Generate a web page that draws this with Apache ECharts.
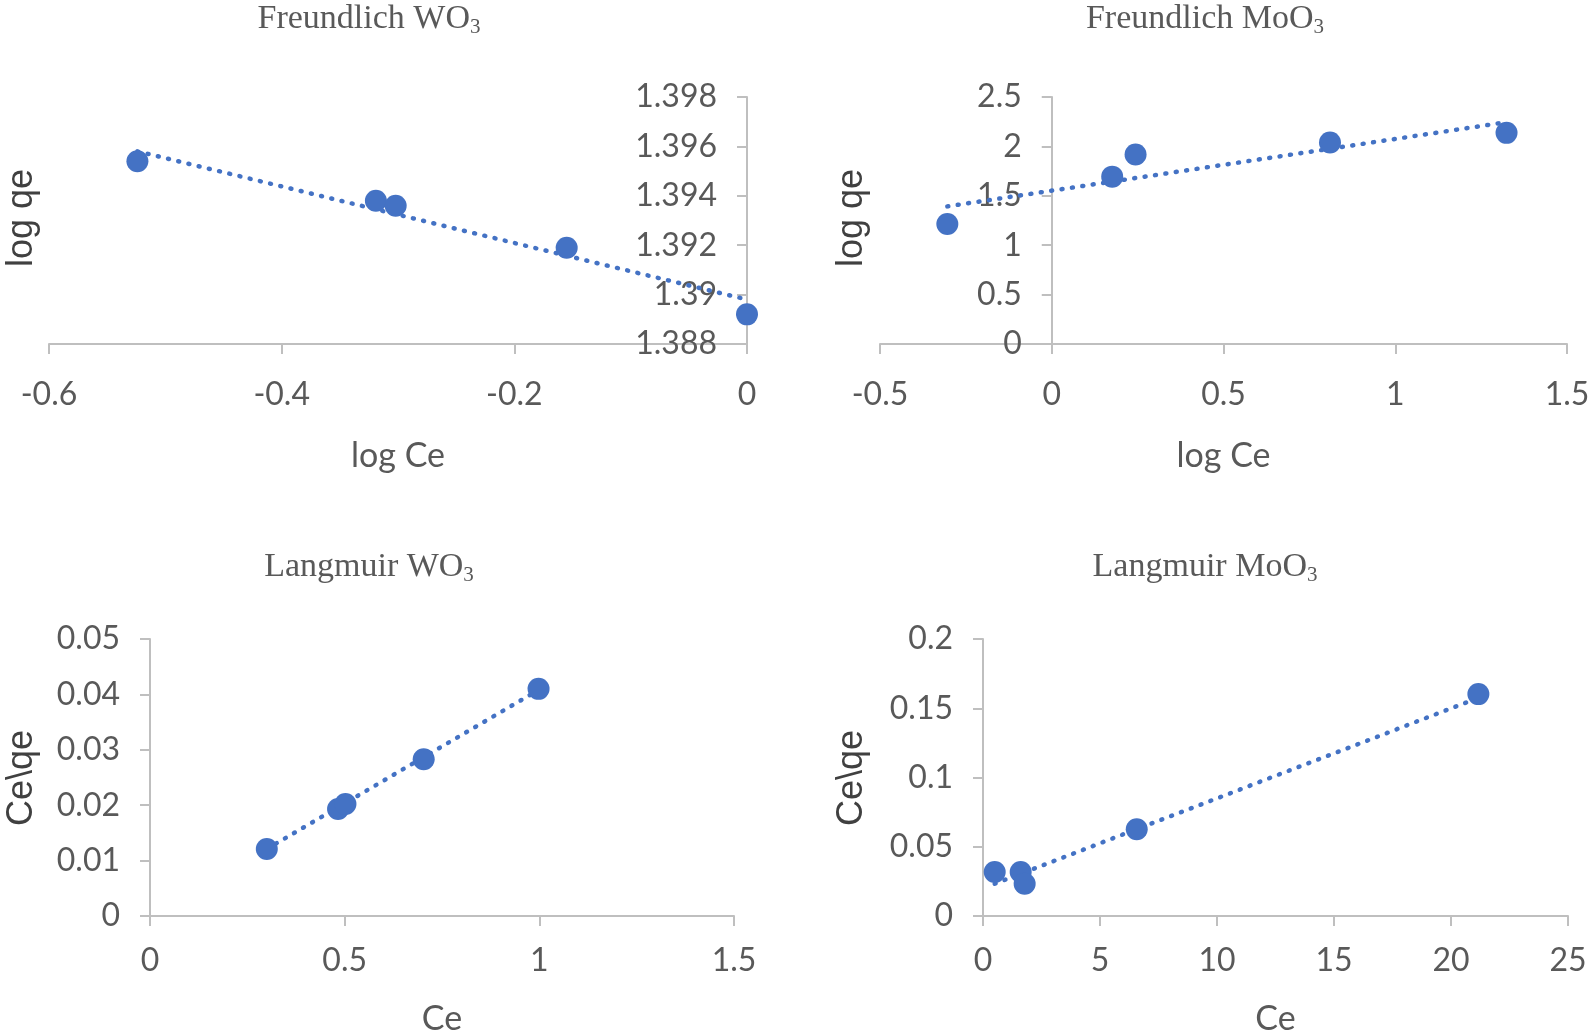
<!DOCTYPE html>
<html>
<head>
<meta charset="utf-8">
<title>Freundlich and Langmuir isotherms</title>
<script src="https://cdn.jsdelivr.net/npm/echarts@6/dist/echarts.min.js"></script>
<style>
    html, body { margin: 0; padding: 0; background: #fff; }
    #chart { width: 1594px; height: 1033px; }
</style>
</head>
<body>
<div id="chart"></div>
<script>
// Freundlich WO3
const fwLogCe = [-0.524, -0.319, -0.302, -0.155, 0];
const fwLogQe = [1.3954, 1.3938, 1.3936, 1.3919, 1.3892];
const fwTrendX = [-0.524, 0];
const fwTrendY = [1.3958, 1.3898];
const fwXTicks = [-0.6, -0.4, -0.2, 0];
const fwYTicks = [1.388, 1.39, 1.392, 1.394, 1.396, 1.398];

// Freundlich MoO3
const fmLogCe = [-0.304, 0.176, 0.244, 0.810, 1.324];
const fmLogQe = [1.214, 1.694, 1.918, 2.04, 2.137];
const fmTrendX = [-0.304, 1.324];
const fmTrendY = [1.393, 2.245];
const fmXTicks = [-0.5, 0, 0.5, 1, 1.5];
const fmYTicks = [0, 0.5, 1, 1.5, 2, 2.5];

// Langmuir WO3
const lwCe = [0.300, 0.483, 0.502, 0.703, 0.998];
const lwCeQe = [0.0121, 0.0193, 0.0202, 0.0283, 0.0410];
const lwTrendX = [0.300, 0.998];
const lwTrendY = [0.0121, 0.0408];
const lwXTicks = [0, 0.5, 1, 1.5];
const lwYTicks = [0, 0.01, 0.02, 0.03, 0.04, 0.05];

// Langmuir MoO3
const lmCe = [0.50, 1.61, 1.78, 6.57, 21.17];
const lmCeQe = [0.0318, 0.0318, 0.0233, 0.0626, 0.1602];
const lmTrendX = [0.50, 21.17];
const lmTrendY = [0.0233, 0.1575];
const lmXTicks = [0, 5, 10, 15, 20, 25];
const lmYTicks = [0, 0.05, 0.1, 0.15, 0.2];

const blue = '#4472C4';
const axisGray = '#bfbfbf';
const textGray = '#595959';

const grids = [
    { left: 49, top: 97, width: 698, height: 247 },
    { left: 880, top: 97, width: 687, height: 247 },
    { left: 150, top: 639, width: 584, height: 277 },
    { left: 983, top: 639, width: 585, height: 277 }
];

function pairs(xs, ys) {
    return xs.map((x, i) => [x, ys[i]]);
}

// min / max / interval straight from the tick list
function range(ticks) {
    return {
        min: ticks[0],
        max: ticks[ticks.length - 1],
        interval: +(ticks[1] - ticks[0]).toFixed(6)
    };
}

// shift of a left y axis so it crosses the x axis at x = 0
function zeroOffset(xTicks, width) {
    const lo = xTicks[0], hi = xTicks[xTicks.length - 1];
    if (lo >= 0) return 0;
    return -((0 - lo) / (hi - lo)) * width;
}

function xAxisOf(idx, ticks, name, gap, labelMargin) {
    return Object.assign({
        type: 'value',
        gridIndex: idx,
        name: name,
        nameLocation: 'middle',
        nameGap: gap,
        nameTextStyle: { color: textGray, fontFamily: 'Lato', fontSize: 34 },
        splitLine: { show: false },
        axisLine: { onZero: true, lineStyle: { color: axisGray, width: 2 } },
        axisTick: { show: true, length: 10, lineStyle: { color: axisGray, width: 2 } },
        axisLabel: { color: textGray, fontFamily: 'Lato', fontSize: 32, margin: labelMargin }
    }, range(ticks));
}

function yAxisOf(idx, ticks, xTicks, onRight) {
    return Object.assign({
        type: 'value',
        gridIndex: idx,
        // y axis crossing at x = 0 on the right edge: labels and ticks point inwards
        position: onRight ? 'right' : 'left',
        offset: onRight ? 0 : zeroOffset(xTicks, grids[idx].width),
        splitLine: { show: false },
        axisLine: { show: true, onZero: false, lineStyle: { color: axisGray, width: 2 } },
        axisTick: { show: true, inside: onRight, length: 10, lineStyle: { color: axisGray, width: 2 } },
        axisLabel: { inside: onRight, color: textGray, fontFamily: 'Lato', fontSize: 32, margin: 30 }
    }, range(ticks));
}

function scatterOf(idx, xs, ys) {
    return {
        type: 'scatter',
        xAxisIndex: idx,
        yAxisIndex: idx,
        symbolSize: 22,
        itemStyle: { color: blue, opacity: 1 },
        data: pairs(xs, ys),
        z: 3
    };
}

function trendOf(idx, xs, ys) {
    return {
        type: 'line',
        xAxisIndex: idx,
        yAxisIndex: idx,
        symbol: 'none',
        lineStyle: { color: blue, width: 4.5, type: [1, 9.5], cap: 'round' },
        data: pairs(xs, ys),
        z: 2
    };
}

function titleOf(main, x, y) {
    return {
        text: '{a|' + main + '}{s|3}',
        left: x,
        top: y,
        padding: 0,
        textAlign: 'center',
        textStyle: {
            fontWeight: 'normal',
            rich: {
                a: { fontFamily: 'Liberation Serif', fontWeight: 'normal', fontSize: 34, color: textGray, lineHeight: 38 },
                s: { fontFamily: 'Liberation Serif', fontWeight: 'normal', fontSize: 21, color: textGray, lineHeight: 20, verticalAlign: 'bottom' }
            }
        }
    };
}

function yNameOf(text, x, y) {
    return {
        type: 'text',
        x: x,
        y: y,
        rotation: Math.PI / 2,
        style: {
            text: text,
            fontFamily: 'Liberation Sans',
            fontSize: 36,
            fill: '#404040',
            align: 'center',
            verticalAlign: 'middle',
            textAlign: 'center',
            textVerticalAlign: 'middle'
        }
    };
}

const chart = echarts.init(document.getElementById('chart'), null, { renderer: 'canvas' });

chart.setOption({
    animation: false,
    backgroundColor: '#fff',
    title: [
        titleOf('Freundlich WO', 369, 0),
        titleOf('Freundlich MoO', 1205, 0),
        titleOf('Langmuir WO', 369, 548),
        titleOf('Langmuir MoO', 1205, 548)
    ],
    grid: grids.map(g => Object.assign({ outerBoundsMode: 'none' }, g)),
    xAxis: [
        xAxisOf(0, fwXTicks, 'log Ce', 95, 35),
        xAxisOf(1, fmXTicks, 'log Ce', 95, 35),
        xAxisOf(2, lwXTicks, 'Ce', 86, 29),
        xAxisOf(3, lmXTicks, 'Ce', 86, 29)
    ],
    yAxis: [
        yAxisOf(0, fwYTicks, fwXTicks, true),
        yAxisOf(1, fmYTicks, fmXTicks, false),
        yAxisOf(2, lwYTicks, lwXTicks, false),
        yAxisOf(3, lmYTicks, lmXTicks, false)
    ],
    graphic: [
        yNameOf('log qe', 22, 218),
        yNameOf('log qe', 852, 218),
        yNameOf('Ce\\qe', 22, 778),
        yNameOf('Ce\\qe', 852, 778)
    ],
    series: [
        trendOf(0, fwTrendX, fwTrendY),
        scatterOf(0, fwLogCe, fwLogQe),
        trendOf(1, fmTrendX, fmTrendY),
        scatterOf(1, fmLogCe, fmLogQe),
        trendOf(2, lwTrendX, lwTrendY),
        scatterOf(2, lwCe, lwCeQe),
        trendOf(3, lmTrendX, lmTrendY),
        scatterOf(3, lmCe, lmCeQe)
    ]
});
</script>
</body>
</html>
